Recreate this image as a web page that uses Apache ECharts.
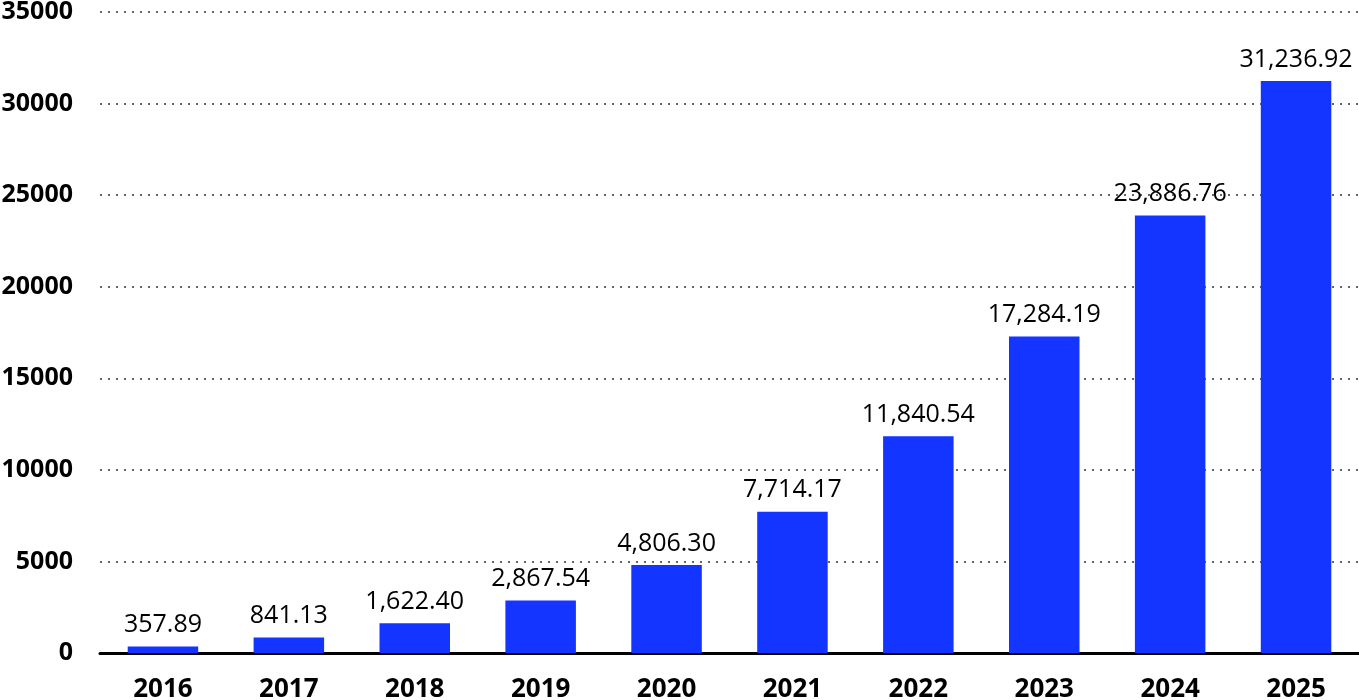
<!DOCTYPE html>
<html>
<head>
<meta charset="utf-8">
<script src="https://cdn.jsdelivr.net/npm/echarts@6/dist/echarts.min.js"></script>
<style>
  html, body { margin: 0; padding: 0; background: #fff; }
  #main { width: 1359px; height: 700px; }
</style>
</head>
<body>
<div id="main"></div>
<script>
const years = ['2016', '2017', '2018', '2019', '2020', '2021', '2022', '2023', '2024', '2025'];
const values = [357.89, 841.13, 1622.40, 2867.54, 4806.30, 7714.17, 11840.54, 17284.19, 23886.76, 31236.92];

const fmt = v => v.toLocaleString('en-US', { minimumFractionDigits: 2, maximumFractionDigits: 2 });

const chart = echarts.init(document.getElementById('main'));
chart.setOption({
  animation: false,
  grid: { left: 100, right: 0, top: 12, bottom: 47, outerBoundsMode: 'none' },
  xAxis: {
    type: 'category',
    data: years,
    axisLine: { lineStyle: { color: '#000', width: 3 } },
    axisTick: { show: false },
    axisLabel: {
      color: '#000', fontWeight: 'bold', fontSize: 26,
      fontFamily: 'Open Sans', margin: 24
    }
  },
  yAxis: {
    type: 'value',
    min: 0, max: 35000, interval: 5000,
    axisLine: { show: false },
    axisTick: { show: false },
    axisLabel: {
      color: '#000', fontWeight: 'bold', fontSize: 25,
      fontFamily: 'Open Sans', margin: 27,
      formatter: v => String(v)
    },
    splitLine: { lineStyle: { color: '#333', type: [2, 6], width: 1.5 } }
  },
  series: [{
    type: 'bar',
    data: values,
    barCategoryGap: '44%',
    itemStyle: { color: '#1434ff' },
    label: {
      show: true, position: 'top', distance: 9,
      color: '#000', fontSize: 25, fontFamily: 'Open Sans',
      formatter: p => fmt(p.value)
    }
  }]
});
</script>
</body>
</html>
